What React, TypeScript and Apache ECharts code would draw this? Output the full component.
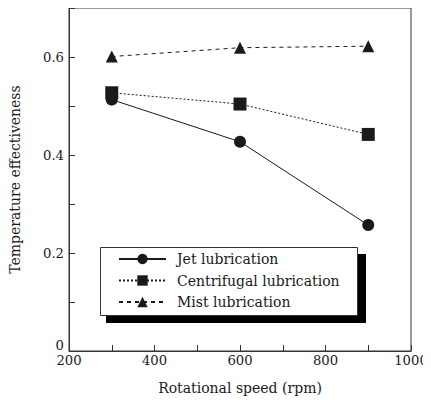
import React, { useEffect, useRef } from "react";
import * as echarts from "echarts";

const speeds = [300, 600, 900];
const jet = [0.513, 0.427, 0.257];
const centrifugal = [0.527, 0.504, 0.442];
const mist = [0.601, 0.619, 0.622];
const seriesNames = ["Jet lubrication", "Centrifugal lubrication", "Mist lubrication"];
const xTitle = "Rotational speed (rpm)";
const yTitle = "Temperature effectiveness";

const FONT = "'DejaVu Serif', serif";
const FS = 14;
const TFS = 13.2;
const INK = "#1a1a1a";

export default function App() {
  const ref = useRef<HTMLDivElement>(null);
  useEffect(() => {
    if (!ref.current) return;
    const chart = echarts.init(ref.current, undefined, { renderer: "svg" });
    const pts = (ys: number[]) => speeds.map((x, i) => [x, ys[i]]);
    const common = (name: string, data: number[], symbol: string, size: number, type: any) => ({
      name,
      type: "line",
      data: pts(data),
      symbol,
      symbolSize: size,
      itemStyle: { color: INK },
      lineStyle: { color: INK, width: 1, type },
      z: 3,
    });
    chart.setOption({
      animation: false,
      backgroundColor: "#fff",
      textStyle: { fontFamily: FONT, color: INK },
      grid: {
        left: 69,
        right: 20,
        top: 8,
        bottom: 49,
        show: true,
        borderColor: "#333",
        borderWidth: 1,
        backgroundColor: "transparent",
      },
      xAxis: {
        type: "value",
        min: 200,
        max: 1000,
        interval: 100,
        name: xTitle,
        nameLocation: "middle",
        nameGap: 30,
        nameTextStyle: { fontFamily: FONT, fontSize: FS, color: INK },
        axisLine: { show: true, lineStyle: { color: "#333" } },
        axisTick: { show: true, inside: true, length: 6, lineStyle: { color: "#333" } },
        splitLine: { show: false },
        axisLabel: {
          margin: 3,
          fontFamily: FONT,
          fontSize: TFS,
          color: INK,
          formatter: (v: number) => (v % 200 === 0 ? String(v) : ""),
        },
      },
      yAxis: {
        type: "value",
        min: 0,
        max: 0.7,
        interval: 0.1,
        name: yTitle,
        nameLocation: "middle",
        nameGap: 47,
        nameTextStyle: { fontFamily: FONT, fontSize: FS, color: INK },
        axisLine: { show: true, lineStyle: { color: "#333" } },
        axisTick: { show: true, inside: true, length: 6, lineStyle: { color: "#333" } },
        splitLine: { show: false },
        axisLabel: {
          margin: 5,
          fontFamily: FONT,
          fontSize: TFS,
          color: INK,
          formatter: (v: number) => {
            const k = Math.round(v * 10);
            if (k === 0) return "{z|0}";
            return k % 2 === 0 && k < 7 ? (k / 10).toFixed(1) : "";
          },
          rich: { z: { fontFamily: FONT, fontSize: TFS, color: INK, padding: [0, 0, 11, 0] } },
        },
      },
      graphic: [
        { type: "rect", z: 5, shape: { x: 106, y: 254, width: 260, height: 69 }, style: { fill: "#000" } },
        { type: "rect", z: 6, shape: { x: 100.5, y: 247.5, width: 257, height: 68 }, style: { fill: "#fff", stroke: "#333", lineWidth: 1 } },
      ],
      legend: {
        orient: "vertical",
        left: 118,
        top: 252,
        padding: 0,
        itemWidth: 47,
        itemHeight: 13,
        itemGap: 7.5,
        z: 10,
        textStyle: { fontFamily: FONT, fontSize: FS, color: INK, padding: [0, 0, 0, 6] },
        data: seriesNames,
      },
      series: [
        common(seriesNames[0], jet, "circle", 12, "solid"),
        common(seriesNames[1], centrifugal, "rect", 13, [2, 2]),
        common(seriesNames[2], mist, "triangle", 12, [4, 4]),
      ],
    });
    return () => chart.dispose();
  }, []);
  return <div ref={ref} style={{ width: 431, height: 400, marginLeft: -8, marginTop: -8 }} />;
}
